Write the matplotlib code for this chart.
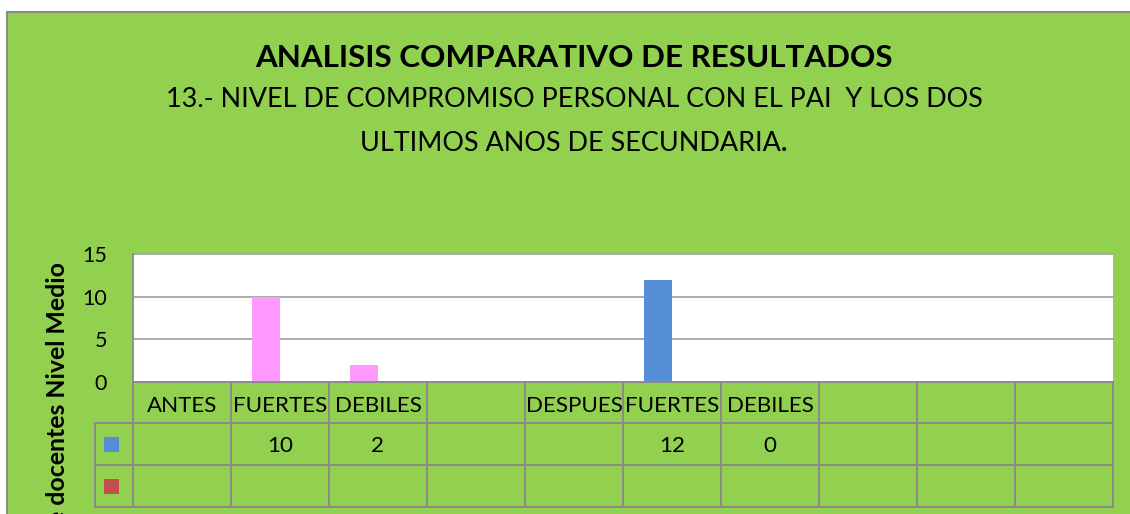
import matplotlib
matplotlib.use("Agg")
import matplotlib.pyplot as plt
import matplotlib.transforms as mtransforms
from matplotlib.patches import Rectangle

# ---- data ---------------------------------------------------------------
categories = ["ANTES", "FUERTES", "DEBILES", "", "DESPUES", "FUERTES", "DEBILES", "", "", ""]
serie_1 = [None, 10, 2, None, None, 12, 0, None, None, None]
serie_2 = [None, None, None, None, None, None, None, None, None, None]
point_colors = [None, "#FF99FF", "#FF99FF", None, None, "#558ED5", "#558ED5", None, None, None]
y_ticks = [0, 5, 10, 15]

title = "ANALISIS COMPARATIVO DE RESULTADOS"
subtitle_1 = "13.- NIVEL DE COMPROMISO PERSONAL CON EL PAI  Y LOS DOS"
subtitle_2 = "ULTIMOS ANOS DE SECUNDARIA"
y_label = "Número de docentes Nivel Medio"

# ---- styles -------------------------------------------------------------
GREEN = "#92D050"
GRID = "#A6A6A6"
LINE = "#8A8A8A"
SERIES_COLORS = ["#558ED5", "#C0504D"]
FONT = "Lato"
plt.rcParams["font.family"] = [FONT, "DejaVu Sans"]

W, H = 1130, 514
fig = plt.figure(figsize=(W / 100, H / 100), dpi=100, facecolor="white")
renderer = fig.canvas.get_renderer()


def fx(px):
    return px / W


def fy(py):
    return 1 - py / H


def fit_width(text_obj, target_px):
    bb = text_obj.get_window_extent(renderer)
    text_obj.set_fontsize(text_obj.get_fontsize() * target_px / bb.width)
    return text_obj.get_fontsize()


def size_for(s, target_px, weight="normal"):
    t = fig.text(0, 0, s, fontsize=20, fontweight=weight)
    size = fit_width(t, target_px)
    t.remove()
    return size


# chart area background with its border
fig.patches.append(Rectangle((fx(7), -0.2), 1.5, fy(12) + 0.2, transform=fig.transFigure,
                             facecolor=GREEN, edgecolor=LINE, linewidth=1.5, zorder=-5))

# titles
t_title = fig.text(fx(574), fy(67), title, ha="center", va="baseline",
                   fontweight="bold", fontsize=20)
fit_width(t_title, 638)
t_sub1 = fig.text(fx(574), fy(107), subtitle_1, ha="center", va="baseline", fontsize=16)
sub_size = fit_width(t_sub1, 818)
t_sub2 = fig.text(fx(360), fy(151), subtitle_2, ha="left", va="baseline", fontsize=sub_size)
bb2 = t_sub2.get_window_extent(renderer)
fig.text(bb2.x1 / W, fy(151), ".", ha="left", va="baseline", fontsize=sub_size, fontweight="bold")

# plot area
ax = fig.add_axes([fx(133), fy(382), 980 / W, 128 / H])
ax.set_zorder(1)
ax.set_facecolor("white")
n = len(categories)
ax.set_xlim(0, n)
ax.set_ylim(y_ticks[0], y_ticks[-1])
for sp in ax.spines.values():
    sp.set_visible(False)
for v in y_ticks[1:]:
    ax.axhline(v, color=GRID, linewidth=1.3, clip_on=False, zorder=1)
ax.axvline(0, color=LINE, linewidth=1.3, clip_on=False, zorder=3)

bar_w = 0.286
for s_idx, serie in enumerate([serie_1, serie_2]):
    offset = (s_idx - 0.5) * bar_w
    for i, v in enumerate(serie):
        if v is None:
            continue
        color = point_colors[i] if (s_idx == 0 and point_colors[i]) else SERIES_COLORS[s_idx]
        ax.bar(i + 0.5 + offset, v, width=bar_w, color=color, zorder=2, linewidth=0)

tick_size = size_for("15", 25)
ax.set_yticks(y_ticks)
ax.set_yticklabels([str(v) for v in y_ticks], fontsize=tick_size)
ax.tick_params(axis="y", length=0, pad=18.7)
ax.set_xticks([])

# data table under the plot
trans = mtransforms.blended_transform_factory(ax.transData, ax.transAxes)
row_px = [382, 423, 465, 507]
row_ay = [(382 - p) / 128 for p in row_px]
baseline_ay = [(382 - p) / 128 for p in (412, 452, 494)]
legend_x = -38 / 98

ax.plot([0, n], [row_ay[0]] * 2, color=LINE, lw=1.4, transform=trans, clip_on=False, zorder=3)
for a in row_ay[1:]:
    ax.plot([legend_x, n], [a, a], color=LINE, lw=1.4, transform=trans, clip_on=False, zorder=3)
for xv in range(n + 1):
    ax.plot([xv, xv], [row_ay[0], row_ay[-1]], color=LINE, lw=1.4, transform=trans,
            clip_on=False, zorder=3)
ax.plot([legend_x, legend_x], [row_ay[1], row_ay[-1]], color=LINE, lw=1.4, transform=trans,
        clip_on=False, zorder=3)

table_size = size_for("FUERTES", 94)
for i, c in enumerate(categories):
    if c:
        ax.text(i + 0.5, baseline_ay[0], c, ha="center", va="baseline", fontsize=table_size,
                transform=trans, clip_on=False)
for r, serie in enumerate([serie_1, serie_2]):
    for i, v in enumerate(serie):
        if v is not None:
            ax.text(i + 0.5, baseline_ay[r + 1], str(v), ha="center", va="baseline",
                    fontsize=table_size, transform=trans, clip_on=False)
    # legend key for the row
    pcy = (row_px[r + 1] + row_px[r + 2]) / 2
    fig.patches.append(Rectangle((fx(104), fy(pcy + 7.5)), 15 / W, 15 / H,
                                 transform=fig.transFigure, facecolor=SERIES_COLORS[r],
                                 edgecolor="none", zorder=4))

# vertical axis title (runs past the lower edge)
ylab_size = size_for("docentes Nivel Medio", 243, weight="bold")
fig.text(fx(58), fy(262), y_label, rotation=90, ha="center", va="top",
         fontweight="bold", fontsize=ylab_size)

fig.savefig("out.png", dpi=100, facecolor="white")
